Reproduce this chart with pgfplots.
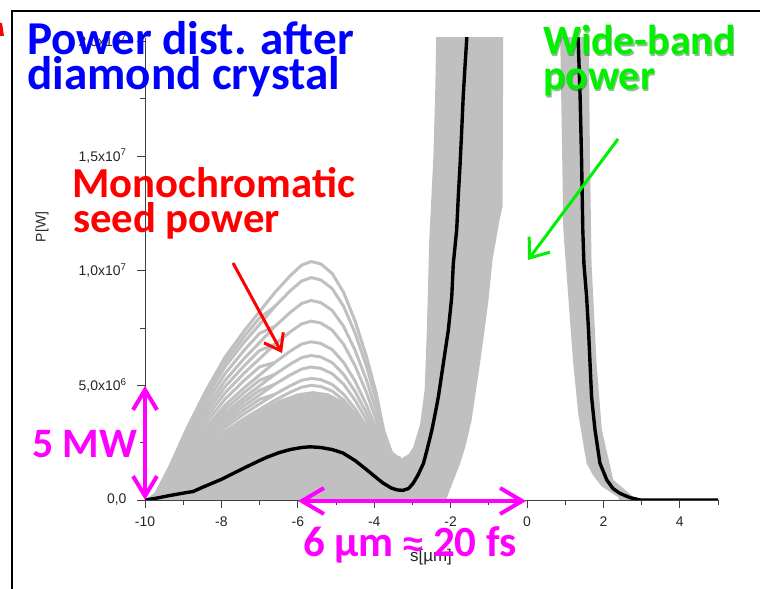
\documentclass[border=0pt]{standalone}
\usepackage{fontspec}
\setmainfont{Carlito}
\newfontfamily\arialf{Liberation Sans}
\usepackage{pgfplots}
\pgfplotsset{compat=1.18}
\usetikzlibrary{arrows.meta}
\definecolor{shots}{RGB}{192,192,192}
\definecolor{titleblue}{RGB}{0,0,255}
\definecolor{widegreen}{RGB}{0,240,0}
\definecolor{seedred}{RGB}{255,0,0}
\definecolor{magent}{RGB}{255,0,255}

\begin{document}
\begin{tikzpicture}[x=1bp,y=1bp]
\path[use as bounding box] (0,0) rectangle (760,589);
% slide frame
\draw[black, line width=2bp] (12,-5) -- (12,578) -- (770,578);
\fill[seedred] (0,566) -- (2,566) -- (4,553) -- (0,553) -- cycle;

\begin{axis}[
  at={(145bp,89bp)}, anchor=south west,
  width=573bp, height=462bp, scale only axis,
  xmin=-10, xmax=5, ymin=0, ymax=20.15,
  axis lines=left,
  axis line style={-, draw=black!75, line width=0.8bp},
  tick align=outside,
  xtick={-10,-8,...,4}, xticklabels={-10,-8,-6,-4,-2,0,2,4},
  minor xtick={-9,-7,...,5},
  ytick={0,5,10,15,20},
  yticklabels={{0,0},{5,0x10\textsuperscript{6}},{1,0x10\textsuperscript{7}},{1,5x10\textsuperscript{7}},{2,0x10\textsuperscript{7}}},
  minor ytick={2.5,7.5,12.5,17.5},
  major tick length=8bp, minor tick length=5bp,
  tick style={draw=black!75, line width=0.8bp},
  ticklabel style={font=\arialf\fontsize{14}{15}\selectfont, text=black!85},
  xticklabel style={yshift=-5bp},
  yticklabel style={xshift=-7bp},
  scaled y ticks=false,
  clip=true,
  shot/.style={shots, line width=3bp},
]
% envelope of the shot-to-shot spread (power in MW)
\addplot[fill=shots, draw=none] coordinates {
(-10,0) (-9.6,0.5) (-9.2,1.1) (-8.8,1.7) (-8.4,2.3) (-8.0,2.8) (-7.5,3.4) (-7.0,3.9)
(-6.5,4.35) (-6.0,4.65) (-5.6,4.75) (-5.2,4.65) (-4.8,4.3) (-4.4,3.7) (-4.0,3.0)
(-3.7,2.4) (-3.45,1.95) (-3.3,1.8) (-3.1,2.0) (-2.98,2.3) (-2.8,3.3) (-2.68,4.8)
(-2.62,7.5) (-2.56,11.3) (-2.45,15) (-2.40,18) (-2.37,21)
(-0.62,21) (-0.63,17) (-0.64,12.8) (-0.72,12.2) (-0.9,10.5) (-1.01,8.7) (-1.12,7.3)
(-1.23,5.96) (-1.45,3.49) (-1.6,2.4) (-1.75,1.6) (-2.02,0.44) (-2.12,0) (-10,0)
};
\addplot[fill=shots, draw=none] coordinates {
(2.4,0) (2.4,0.1) (1.95,0.6) (1.72,1.1) (1.56,1.6) (1.34,3.78) (1.21,5.96) (1.08,8.86)
(0.95,11.8) (0.91,16.1) (0.86,21) (1.61,21) (1.65,14.7) (1.69,10.3) (1.82,5.96)
(1.96,3.05) (2.26,0.87) (2.78,0.15) (3.05,0) (2.4,0)
};
% individual shots with strong seed
\addplot[shot] coordinates {
(-9.8,0) (-9.35,1.46) (-8.9,3.12) (-8.4,4.78) (-7.9,6.24) (-7.4,7.38) (-7.0,8.22) (-6.6,9.05)
(-6.2,9.78) (-5.9,10.24) (-5.65,10.4) (-5.4,10.30) (-5.1,9.88) (-4.8,9.05) (-4.5,7.80)
(-4.2,6.24) (-3.95,4.68) (-3.75,3.02) (-3.55,2.08) (-3.4,1.87) (-3.3,1.82)};
\addplot[shot] coordinates {
(-9.8,0) (-9.35,1.36) (-8.9,2.91) (-8.4,4.46) (-7.9,5.82) (-7.4,6.89) (-7.0,7.66) (-6.6,8.44)
(-6.2,9.12) (-5.9,9.55) (-5.65,9.7) (-5.4,9.60) (-5.1,9.22) (-4.8,8.44) (-4.5,7.28)
(-4.2,5.82) (-3.95,4.37) (-3.75,2.81) (-3.55,1.94) (-3.4,1.75) (-3.3,1.70)};
\addplot[shot] coordinates {
(-9.8,0) (-9.35,1.22) (-8.9,2.61) (-8.4,4.00) (-7.9,5.22) (-7.4,6.18) (-7.0,6.87) (-6.6,7.57)
(-6.2,8.18) (-5.9,8.57) (-5.65,8.7) (-5.4,8.61) (-5.1,8.27) (-4.8,7.57) (-4.5,6.53)
(-4.2,5.22) (-3.95,3.92) (-3.75,2.52) (-3.55,1.74) (-3.4,1.57) (-3.3,1.52)};
\addplot[shot] coordinates {
(-9.8,0) (-9.35,1.09) (-8.9,2.34) (-8.4,3.59) (-7.9,4.68) (-7.4,5.54) (-7.0,6.16) (-6.6,6.79)
(-6.2,7.33) (-5.9,7.68) (-5.65,7.8) (-5.4,7.72) (-5.1,7.41) (-4.8,6.79) (-4.5,5.85)
(-4.2,4.68) (-3.95,3.51) (-3.75,2.26) (-3.55,1.56) (-3.4,1.40) (-3.3,1.37)};
\addplot[shot] coordinates {
(-9.8,0) (-9.35,0.97) (-8.9,2.07) (-8.4,3.17) (-7.9,4.14) (-7.4,4.90) (-7.0,5.45) (-6.6,6.00)
(-6.2,6.49) (-5.9,6.80) (-5.65,6.9) (-5.4,6.83) (-5.1,6.56) (-4.8,6.00) (-4.5,5.18)
(-4.2,4.14) (-3.95,3.11) (-3.75,2.00) (-3.55,1.38) (-3.4,1.24) (-3.3,1.21)};
\addplot[shot] coordinates {
(-9.8,0) (-9.35,0.88) (-8.9,1.89) (-8.4,2.90) (-7.9,3.78) (-7.4,4.47) (-7.0,4.98) (-6.6,5.48)
(-6.2,5.92) (-5.9,6.21) (-5.65,6.3) (-5.4,6.24) (-5.1,5.99) (-4.8,5.48) (-4.5,4.73)
(-4.2,3.78) (-3.95,2.84) (-3.75,1.83) (-3.55,1.26) (-3.4,1.13) (-3.3,1.10)};
\addplot[shot] coordinates {
(-9.8,0) (-9.35,0.81) (-8.9,1.74) (-8.4,2.67) (-7.9,3.48) (-7.4,4.12) (-7.0,4.58) (-6.6,5.05)
(-6.2,5.45) (-5.9,5.71) (-5.65,5.8) (-5.4,5.74) (-5.1,5.51) (-4.8,5.05) (-4.5,4.35)
(-4.2,3.48) (-3.95,2.61) (-3.75,1.68) (-3.55,1.16) (-3.4,1.04) (-3.3,1.02)};
\addplot[shot] coordinates {
(-9.8,0) (-9.35,0.74) (-8.9,1.59) (-8.4,2.44) (-7.9,3.18) (-7.4,3.76) (-7.0,4.19) (-6.6,4.61)
(-6.2,4.98) (-5.9,5.22) (-5.65,5.3) (-5.4,5.25) (-5.1,5.04) (-4.8,4.61) (-4.5,3.98)
(-4.2,3.18) (-3.95,2.39) (-3.75,1.54) (-3.55,1.06) (-3.4,0.95) (-3.3,0.93)};
\addplot[shot] coordinates {
(-9.8,0) (-9.35,0.70) (-8.9,1.50) (-8.4,2.31) (-7.9,3.00) (-7.4,3.55) (-7.0,3.95) (-6.6,4.35)
(-6.2,4.70) (-5.9,4.92) (-5.65,5.0) (-5.4,4.95) (-5.1,4.75) (-4.8,4.35) (-4.5,3.75)
(-4.2,3.00) (-3.95,2.25) (-3.75,1.45) (-3.55,1.00) (-3.4,0.90) (-3.3,0.88)};
% shots that rise early and fall in with their neighbours
\addplot[shot] coordinates {
(-9.8,0) (-9.35,1.41) (-8.9,3.02) (-8.4,4.62) (-7.9,6.03) (-7.4,7.14) (-7.0,7.94) (-6.6,8.44)};
\addplot[shot] coordinates {
(-9.8,0) (-9.35,1.29) (-8.9,2.76) (-8.4,4.23) (-7.9,5.52) (-7.4,6.54) (-7.0,7.27) (-6.6,7.57)};
\addplot[shot] coordinates {
(-9.8,0) (-9.35,1.16) (-8.9,2.48) (-8.4,3.80) (-7.9,4.95) (-7.4,5.86) (-7.0,6.52) (-6.6,6.79)};
\addplot[shot] coordinates {
(-9.8,0) (-9.35,1.03) (-8.9,2.21) (-8.4,3.38) (-7.9,4.41) (-7.4,5.22) (-7.0,5.81) (-6.6,6.00)};
\addplot[shot] coordinates {
(-9.8,0) (-9.35,0.93) (-8.9,1.98) (-8.4,3.04) (-7.9,3.96) (-7.4,4.69) (-7.0,5.22) (-6.6,5.48)};
\addplot[shot] coordinates {
(-9.8,0) (-9.35,0.85) (-8.9,1.82) (-8.4,2.79) (-7.9,3.63) (-7.4,4.30) (-7.0,4.78) (-6.6,5.05)};
\addplot[shot] coordinates {
(-9.8,0) (-9.35,0.78) (-8.9,1.67) (-8.4,2.56) (-7.9,3.33) (-7.4,3.94) (-7.0,4.39) (-6.6,4.61)};
% average power
\addplot[black, line width=3.4bp, line join=round] coordinates {
(-10,0) (-9.7,0.08) (-9.4,0.18) (-9.0,0.3) (-8.74,0.37) (-8.5,0.55) (-8.2,0.76) (-8.0,0.9)
(-7.7,1.15) (-7.4,1.4) (-7.0,1.72) (-6.8,1.87) (-6.5,2.06) (-6.2,2.2) (-5.9,2.29)
(-5.68,2.32) (-5.4,2.29) (-5.1,2.2) (-4.82,2.05) (-4.5,1.72) (-4.19,1.31) (-3.95,0.98)
(-3.77,0.74) (-3.55,0.52) (-3.4,0.44) (-3.25,0.42) (-3.1,0.5) (-2.98,0.73) (-2.85,1.1)
(-2.71,1.6) (-2.6,2.3) (-2.49,3.05) (-2.4,3.8) (-2.32,4.5) (-2.19,5.96) (-2.06,7.41)
(-1.97,8.86) (-1.93,10.3) (-1.84,11.8) (-1.80,13.2) (-1.75,14.7) (-1.71,16.1) (-1.67,17.6)
(-1.62,19.0) (-1.58,20.05) (-1.55,21)
(1.30,21) (1.34,20.05) (1.39,17.6) (1.43,14.7) (1.46,11.8) (1.49,10.3) (1.56,8.86)
(1.61,7.41) (1.65,5.96) (1.69,4.5) (1.78,3.05) (1.91,1.6) (2.09,0.87) (2.25,0.5)
(2.43,0.29) (2.7,0.1) (2.96,0) (5,0)};
\end{axis}

% axis titles
\node[font=\arialf\fontsize{17}{18}\selectfont, text=black!85] at (431,32) {s[µm]};
\node[font=\arialf\fontsize{14}{15}\selectfont, text=black!85, rotate=90] at (42,362) {P[W]};

% annotations
\begin{scope}[every node/.style={anchor=base west, inner sep=0pt}]
\node[font=\bfseries\fontsize{47.3}{47}\selectfont, text=titleblue] at (27,534) {Power dist. after};
\node[font=\bfseries\fontsize{47.3}{47}\selectfont, text=titleblue] at (27,499) {diamond crystal};
% soft shadow under the green label
\node[font=\bfseries\fontsize{42}{42}\selectfont, text=green!45!black, opacity=0.45] at (544.2,532.8) {Wide-band};
\node[font=\bfseries\fontsize{42}{42}\selectfont, text=green!45!black, opacity=0.45] at (544.2,497.8) {power};
\node[font=\bfseries\fontsize{42}{42}\selectfont, text=widegreen] at (543,534) {Wide-band};
\node[font=\bfseries\fontsize{42}{42}\selectfont, text=widegreen] at (543,499) {power};
\node[font=\bfseries\fontsize{42.9}{43}\selectfont, text=seedred] at (72,391) {Monochromatic};
\node[font=\bfseries\fontsize{42.9}{43}\selectfont, text=seedred] at (73,356) {seed power};
\node[font=\bfseries\fontsize{42}{42}\selectfont, text=magent] at (32,131) {5 MW};
\node[font=\bfseries\fontsize{43.2}{43}\selectfont, text=magent] at (303,32) {6 µm {\arialf\fontsize{36}{36}\selectfont ≈} 20 fs};
\end{scope}

\draw[seedred, line width=3bp, -{Straight Barb[length=15bp,width=22bp]}] (233,326) -- (282,236);
\draw[widegreen, line width=3bp, -{Straight Barb[length=17bp,width=26bp]}] (618,450) -- (528,329);
\draw[magent, line width=4bp, {Straight Barb[length=20bp,width=24bp]}-{Straight Barb[length=20bp,width=24bp]}] (145,203) -- (145,89);
\draw[magent, line width=4bp, {Straight Barb[length=22bp,width=26bp]}-{Straight Barb[length=22bp,width=26bp]}] (298,88) -- (526,88);
\end{tikzpicture}
\end{document}
